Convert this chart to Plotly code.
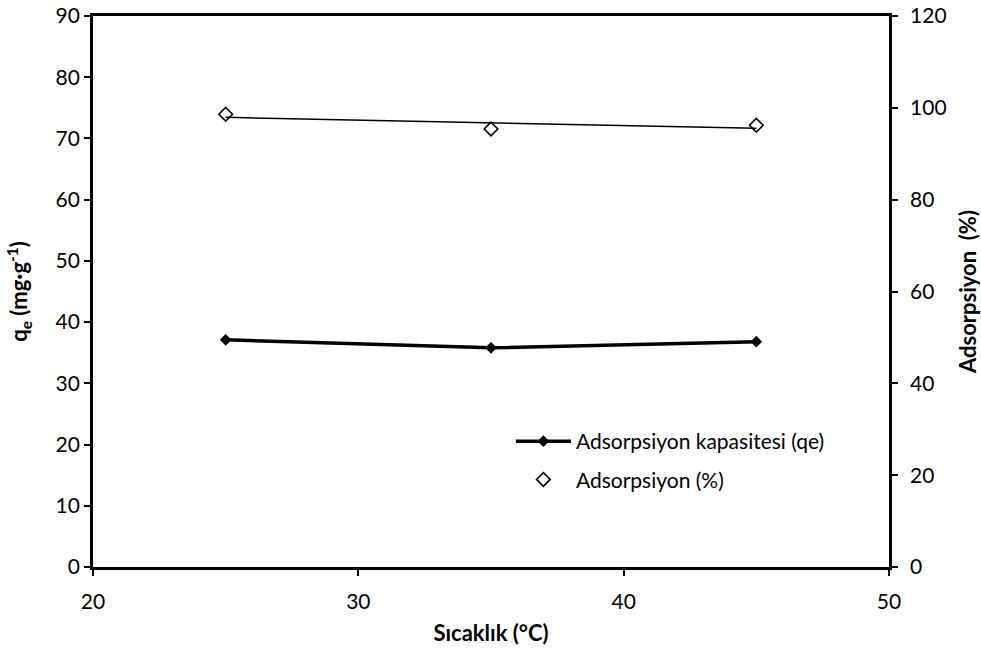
import numpy as np
import plotly.graph_objects as go

# Temperature (°C)
sicaklik = [25, 35, 45]
# Adsorption capacity qe (mg/g)
qe = [37.1, 35.8, 36.8]
# Adsorption (%)
adsorpsiyon = [98.6, 95.4, 96.2]

FONT = "Lato, 'Open Sans', sans-serif"

# linear trendline for the adsorption percentage
coef = np.polyfit(sicaklik, adsorpsiyon, 1)
trend_x = [min(sicaklik), max(sicaklik)]
trend_y = list(np.polyval(coef, trend_x))

fig = go.Figure()

fig.add_trace(go.Scatter(
    x=sicaklik, y=qe, mode="lines+markers",
    name="Adsorpsiyon kapasitesi (qe)", legendgroup="a",
    line=dict(color="black", width=3.5),
    marker=dict(symbol="diamond", size=9, color="black"),
    yaxis="y",
))

fig.add_trace(go.Scatter(
    x=trend_x, y=trend_y, mode="lines",
    line=dict(color="black", width=1.5),
    showlegend=False, hoverinfo="skip", yaxis="y2",
))

fig.add_trace(go.Scatter(
    x=sicaklik, y=adsorpsiyon, mode="markers",
    name="Adsorpsiyon (%)", legendgroup="b",
    marker=dict(symbol="diamond-open", size=10.5, color="black",
                line=dict(width=1.6, color="black")),
    yaxis="y2",
))

axis_common = dict(
    showgrid=False, zeroline=False, automargin=False,
    showline=True, linecolor="black", linewidth=2.8,
    ticks="outside", ticklen=6, tickwidth=2, tickcolor="black",
    tickfont=dict(family=FONT, size=21, color="black"),
)

fig.update_layout(
    width=981, height=654,
    margin=dict(l=93, r=92, t=16, b=87),
    plot_bgcolor="white", paper_bgcolor="white",
    font=dict(family=FONT, color="black"),
    xaxis=dict(
        range=[20, 50], dtick=10, mirror=True, ticklabelstandoff=8,
        title=dict(text="<b>Sıcaklık (°C)</b>", font=dict(family=FONT, size=22), standoff=14),
        **axis_common,
    ),
    yaxis=dict(
        range=[0, 90], dtick=10, ticklabelstandoff=0,
        title=dict(text="<b>q<sub>e</sub> (mg·g<sup>-1</sup>)</b>", font=dict(family=FONT, size=22), standoff=22),
        **axis_common,
    ),
    yaxis2=dict(
        range=[0, 120], dtick=20, overlaying="y", side="right", ticklabelstandoff=8,
        title=dict(text="<b>Adsorpsiyon  (%)</b>", font=dict(family=FONT, size=22), standoff=22),
        **axis_common,
    ),
    legend=dict(
        x=0.525, y=0.265, xanchor="left", yanchor="top",
        bgcolor="rgba(0,0,0,0)",
        font=dict(family=FONT, size=21, color="black"),
        tracegroupgap=8, itemwidth=55,
    ),
    showlegend=True,
)

fig.write_html("out.html")
